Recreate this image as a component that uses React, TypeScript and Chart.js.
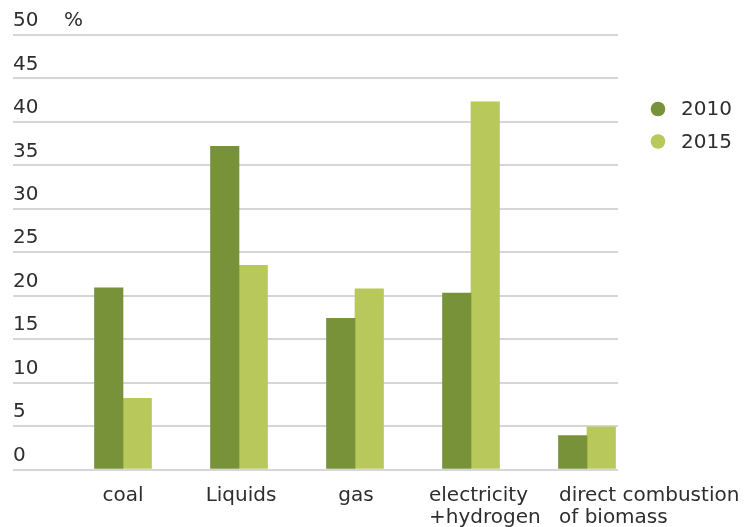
import { useEffect, useRef } from 'react';
import { Chart, registerables } from 'chart.js';

Chart.register(...registerables);

// ---- data ----
const CATEGORIES: string[][] = [
  ['coal'],
  ['Liquids'],
  ['gas'],
  ['electricity', '+hydrogen'],
  ['direct combustion', 'of biomass'],
];
const SERIES_LABELS = ['2010', '2015'];
const VALUES_2010 = [20.9, 37.2, 17.4, 20.3, 3.9];
const VALUES_2015 = [8.2, 23.5, 20.8, 42.3, 4.9];
const Y_TICKS = [0, 5, 10, 15, 20, 25, 30, 35, 40, 45, 50];
const UNIT = '%';

// ---- style ----
const FONT_FAMILY = '"DejaVu Sans", Verdana, sans-serif';
const FONT_SIZE = 20;
const TEXT_COLOR = '#2e2e2e';
const GRID_COLOR = '#d6d6d6';
const COLORS = ['#78923a', '#b8c85a'];
const X_LABEL_STYLE: { align: CanvasTextAlign; dx: number }[] = [
  { align: 'center', dx: 0 },
  { align: 'center', dx: 2 },
  { align: 'center', dx: 1 },
  { align: 'left', dx: -42 },
  { align: 'left', dx: -28 },
];

const xLabelsPlugin = {
  id: 'xLabels',
  afterDraw(chart: any) {
    const { ctx, chartArea } = chart;
    const xs = chart.scales.x;
    ctx.save();
    ctx.font = `${FONT_SIZE}px ${FONT_FAMILY}`;
    ctx.fillStyle = TEXT_COLOR;
    ctx.textBaseline = 'alphabetic';
    CATEGORIES.forEach((lines, i) => {
      const st = X_LABEL_STYLE[i];
      const x = xs.getPixelForValue(i) + st.dx;
      ctx.textAlign = st.align;
      lines.forEach((ln, j) => {
        ctx.fillText(ln, x, chartArea.bottom + 31.5 + j * 21.5);
      });
    });
    ctx.restore();
  },
};

const legendPlugin = {
  id: 'customLegend',
  afterDraw(chart: any) {
    const { ctx } = chart;
    ctx.save();
    ctx.font = `${FONT_SIZE}px ${FONT_FAMILY}`;
    ctx.textBaseline = 'middle';
    ctx.textAlign = 'left';
    chart.data.datasets.forEach((ds: any, i: number) => {
      const cy = 109 + i * 32.5;
      ctx.beginPath();
      ctx.fillStyle = ds.backgroundColor;
      ctx.arc(658, cy, 7.3, 0, Math.PI * 2);
      ctx.fill();
      ctx.fillStyle = TEXT_COLOR;
      ctx.fillText(ds.label, 681, cy + 1);
    });
    ctx.restore();
  },
};

export default function App() {
  const ref = useRef<HTMLCanvasElement | null>(null);
  useEffect(() => {
    if (!ref.current) return;
    const xMin = -110 / 116;
    const xMax = xMin + 605 / 116;
    const chart = new Chart(ref.current, {
      type: 'bar',
      data: {
        datasets: [
          {
            label: SERIES_LABELS[0],
            data: VALUES_2010.map((v, i) => ({ x: i, y: v })),
            backgroundColor: COLORS[0],
            barThickness: 28.5,
          },
          {
            label: SERIES_LABELS[1],
            data: VALUES_2015.map((v, i) => ({ x: i, y: v })),
            backgroundColor: COLORS[1],
            barThickness: 28.5,
          },
        ],
      },
      options: {
        animation: false,
        responsive: true,
        maintainAspectRatio: false,
        layout: { padding: { left: 13, top: 35, right: 127, bottom: 57.5 } },
        plugins: { legend: { display: false }, tooltip: { enabled: false } },
        scales: {
          x: {
            type: 'linear',
            display: false,
            offset: false,
            min: xMin,
            max: xMax,
            afterBuildTicks: (scale: any) => {
              scale.ticks = CATEGORIES.map((_, i) => ({ value: i }));
            },
          },
          y: {
            min: Y_TICKS[0],
            max: Y_TICKS[Y_TICKS.length - 1],
            afterBuildTicks: (scale: any) => {
              scale.ticks = Y_TICKS.map((v) => ({ value: v }));
            },
            afterFit: (scale: any) => {
              scale.width = 0;
            },
            border: { display: false },
            grid: { color: GRID_COLOR, lineWidth: 2, drawTicks: false, tickLength: 0 },
            ticks: {
              mirror: true,
              padding: 0,
              labelOffset: -14,
              color: TEXT_COLOR,
              font: { family: FONT_FAMILY, size: FONT_SIZE },
              callback: (v: any) =>
                v === Y_TICKS[Y_TICKS.length - 1] ? `${v}    ${UNIT}` : `${v}`,
            },
          },
        },
      },
      plugins: [xLabelsPlugin, legendPlugin],
    });
    return () => chart.destroy();
  }, []);
  return (
    <div style={{ position: 'fixed', left: 0, top: 0, width: 745, height: 527, background: '#fff' }}>
      <canvas ref={ref} />
    </div>
  );
}
